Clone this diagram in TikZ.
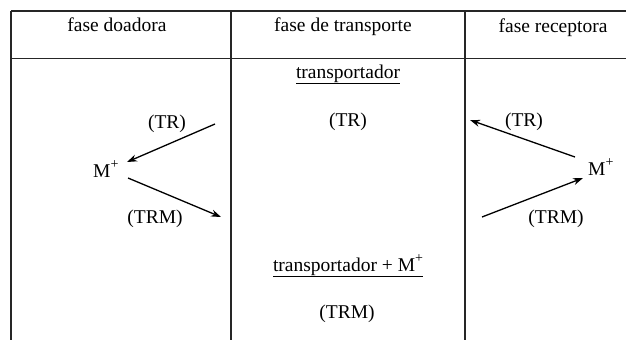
\documentclass[tikz,border=0pt]{standalone}
\usepackage{fontspec}
\setmainfont{Liberation Serif}
\usetikzlibrary{arrows.meta}
\newcommand{\supplus}{\raisebox{0.42em}{\fontsize{14}{14}\selectfont +}}
\begin{document}
\begin{tikzpicture}[x=1pt,y=-1pt,
  rule/.style={line width=1.5pt,draw=black!85},
  lbl/.style={inner sep=0pt,anchor=base,font=\fontsize{19.5}{23}\selectfont},
  arr/.style={line width=1.3pt,-{Stealth[length=10pt,width=7pt]}}]
\useasboundingbox (0,0) rectangle (626,340);
% table rules
\draw[rule] (11,11) -- (626,11);
\draw[rule] (11,58.5) -- (626,58.5);
\draw[rule] (11,11) -- (11,340);
\draw[rule] (231,11) -- (231,340);
\draw[rule] (465,11) -- (465,340);
% headers
\node[lbl] (h1) at (117,31.5) {fase doadora};
\node[lbl] (h2) at (343,31.5) {fase de transporte};
\node[lbl] (h3) at (553,32.5) {fase receptora};
% middle column
\node[lbl] (tp) at (348,78) {\underline{transportador}};
\node[lbl] (trm) at (348,126) {(TR)};
\node[lbl] (tpm) at (348,271) {\underline{transportador + M\supplus}};
\node[lbl] (trmm) at (347,318) {(TRM)};
% left column
\node[lbl,anchor=base west] (ml) at (93,177) {M\supplus};
\node[lbl] (trl) at (167,128) {(TR)};
\node[lbl] (trml) at (155,223) {(TRM)};
\coordinate (l1s) at (215,124);
\coordinate (l1e) at (127,162);
\coordinate (l2s) at (128,178);
\coordinate (l2e) at (221,217);
\draw[arr] (l1s) -- (l1e);
\draw[arr] (l2s) -- (l2e);
% right column
\node[lbl,anchor=base west] (mr) at (588,175) {M\supplus};
\node[lbl] (trr) at (524,126) {(TR)};
\node[lbl] (trmr) at (556,223) {(TRM)};
\coordinate (r1s) at (575,157);
\coordinate (r1e) at (470,120);
\coordinate (r2s) at (482,217);
\coordinate (r2e) at (583,178);
\draw[arr] (r1s) -- (r1e);
\draw[arr] (r2s) -- (r2e);
\end{tikzpicture}
\end{document}
